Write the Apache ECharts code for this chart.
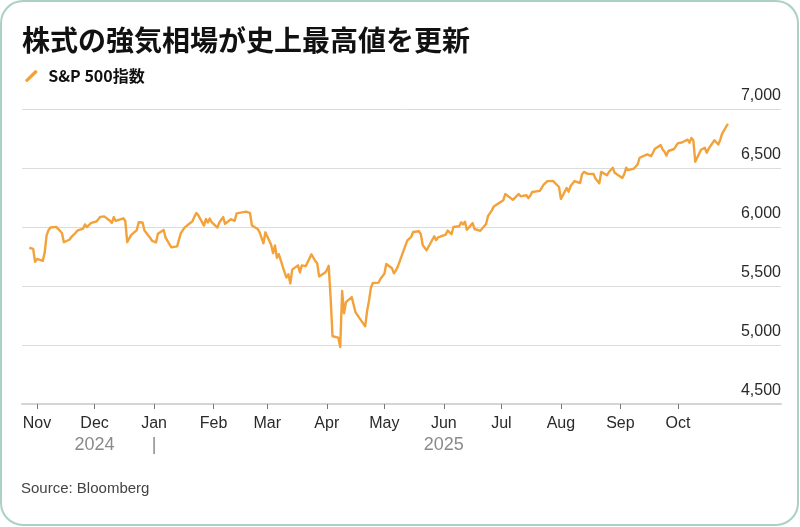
<!DOCTYPE html>
<html>
<head>
<meta charset="utf-8">
<script src="https://cdn.jsdelivr.net/npm/echarts@6/dist/echarts.min.js"></script>
<style>
html,body{margin:0;padding:0;background:#fff;}
#chart{width:800px;height:527px;}
</style>
</head>
<body>
<div id="chart"></div>
<script>
// ---- Data ----
const titleText = '株式の強気相場が史上最高値を更新';
const seriesName = 'S&P 500指数';
const sourceText = 'Source: Bloomberg';

const dates = [
'2024-10-28','2024-10-29','2024-10-30','2024-10-31','2024-11-01',
'2024-11-04','2024-11-05','2024-11-06','2024-11-07','2024-11-08',
'2024-11-11','2024-11-12','2024-11-13','2024-11-14','2024-11-15',
'2024-11-18','2024-11-19','2024-11-20','2024-11-21','2024-11-22',
'2024-11-25','2024-11-26','2024-11-27','2024-11-29',
'2024-12-02','2024-12-03','2024-12-04','2024-12-05','2024-12-06',
'2024-12-09','2024-12-10','2024-12-11','2024-12-12','2024-12-13',
'2024-12-16','2024-12-17','2024-12-18','2024-12-19','2024-12-20',
'2024-12-23','2024-12-24','2024-12-26','2024-12-27',
'2024-12-30','2024-12-31','2025-01-02','2025-01-03',
'2025-01-06','2025-01-07','2025-01-08','2025-01-10',
'2025-01-13','2025-01-14','2025-01-15','2025-01-16','2025-01-17',
'2025-01-21','2025-01-22','2025-01-23','2025-01-24',
'2025-01-27','2025-01-28','2025-01-29','2025-01-30','2025-01-31',
'2025-02-03','2025-02-04','2025-02-05','2025-02-06','2025-02-07',
'2025-02-10','2025-02-11','2025-02-12','2025-02-13','2025-02-14',
'2025-02-18','2025-02-19','2025-02-20','2025-02-21',
'2025-02-24','2025-02-25','2025-02-26','2025-02-27','2025-02-28',
'2025-03-03','2025-03-04','2025-03-05','2025-03-06','2025-03-07',
'2025-03-10','2025-03-11','2025-03-12','2025-03-13','2025-03-14',
'2025-03-17','2025-03-18','2025-03-19','2025-03-20','2025-03-21',
'2025-03-24','2025-03-25','2025-03-26','2025-03-27','2025-03-28',
'2025-03-31','2025-04-01','2025-04-02','2025-04-03','2025-04-04',
'2025-04-07','2025-04-08','2025-04-09','2025-04-10','2025-04-11',
'2025-04-14','2025-04-15','2025-04-16','2025-04-17',
'2025-04-21','2025-04-22','2025-04-23','2025-04-24','2025-04-25',
'2025-04-28','2025-04-29','2025-04-30','2025-05-01','2025-05-02',
'2025-05-05','2025-05-06','2025-05-07','2025-05-08','2025-05-09',
'2025-05-12','2025-05-13','2025-05-14','2025-05-15','2025-05-16',
'2025-05-19','2025-05-20','2025-05-21','2025-05-22','2025-05-23',
'2025-05-27','2025-05-28','2025-05-29','2025-05-30',
'2025-06-02','2025-06-03','2025-06-04','2025-06-05','2025-06-06',
'2025-06-09','2025-06-10','2025-06-11','2025-06-12','2025-06-13',
'2025-06-16','2025-06-17','2025-06-18','2025-06-20',
'2025-06-23','2025-06-24','2025-06-25','2025-06-26','2025-06-27',
'2025-06-30','2025-07-01','2025-07-02','2025-07-03',
'2025-07-07','2025-07-08','2025-07-09','2025-07-10','2025-07-11',
'2025-07-14','2025-07-15','2025-07-16','2025-07-17','2025-07-18',
'2025-07-21','2025-07-22','2025-07-23','2025-07-24','2025-07-25',
'2025-07-28','2025-07-29','2025-07-30','2025-07-31','2025-08-01',
'2025-08-04','2025-08-05','2025-08-06','2025-08-07','2025-08-08',
'2025-08-11','2025-08-12','2025-08-13','2025-08-14','2025-08-15',
'2025-08-18','2025-08-19','2025-08-20','2025-08-21','2025-08-22',
'2025-08-25','2025-08-26','2025-08-27','2025-08-28','2025-08-29',
'2025-09-02','2025-09-03','2025-09-04','2025-09-05',
'2025-09-08','2025-09-09','2025-09-10','2025-09-11','2025-09-12',
'2025-09-15','2025-09-16','2025-09-17','2025-09-18','2025-09-19',
'2025-09-22','2025-09-23','2025-09-24','2025-09-25','2025-09-26',
'2025-09-29','2025-09-30','2025-10-01','2025-10-02','2025-10-03',
'2025-10-06','2025-10-07','2025-10-08','2025-10-09','2025-10-10',
'2025-10-13','2025-10-14','2025-10-15','2025-10-16','2025-10-17',
'2025-10-20','2025-10-21','2025-10-22','2025-10-23','2025-10-24',
'2025-10-27'
];

const closes = [
5824,5833,5814,5705,5729,
5713,5783,5929,5973,5996,
6001,5984,5985,5949,5871,
5894,5917,5917,5949,5969,
5987,6022,5999,6032,
6047,6050,6086,6075,6090,
6053,6035,6084,6051,6051,
6074,6051,5872,5867,5931,
5974,6040,6038,5971,
5907,5882,5869,5942,
5975,5909,5918,5827,
5836,5843,5950,5937,5997,
6049,6086,6119,6101,
6012,6068,6039,6071,6041,
5995,6038,6061,6084,6026,
6066,6069,6052,6115,6115,
6130,6144,6118,6013,
5983,5955,5956,5862,5955,
5850,5778,5843,5739,5770,
5615,5572,5599,5522,5639,
5675,5615,5675,5663,5668,
5768,5777,5712,5693,5581,
5612,5633,5671,5397,5074,
5062,4983,5457,5268,5363,
5406,5397,5276,5283,
5158,5288,5376,5485,5525,
5529,5561,5569,5604,5687,
5650,5607,5631,5664,5660,
5844,5887,5893,5917,5958,
5964,5940,5845,5842,5803,
5922,5889,5912,5912,
5936,5970,5971,5939,6000,
6006,6039,6022,6045,5977,
6033,5983,5981,5968,
6025,6092,6092,6141,6173,
6205,6198,6227,6279,
6230,6226,6263,6280,6260,
6269,6244,6264,6297,6297,
6306,6310,6359,6363,6389,
6390,6371,6363,6339,6238,
6330,6299,6345,6340,6389,
6373,6446,6467,6469,6450,
6449,6411,6396,6370,6467,
6439,6466,6481,6502,6460,
6416,6448,6502,6482,
6495,6513,6532,6587,6584,
6615,6607,6600,6632,6664,
6694,6657,6638,6605,6644,
6661,6688,6711,6715,6716,
6740,6715,6754,6735,6553,
6655,6644,6671,6629,6664,
6735,6735,6699,6738,6792,
6875
];

const monthTicks = ['2024-11-01','2024-12-01','2025-01-01','2025-02-01','2025-03-01','2025-04-01','2025-05-01','2025-06-01','2025-07-01','2025-08-01','2025-09-01','2025-10-01'];
const monthLabels = ['Nov','Dec','Jan','Feb','Mar','Apr','May','Jun','Jul','Aug','Sep','Oct'];
const yearLabels = ['', '2024', '|', '', '', '', '', '2025', '', '', '', ''];
const yTicks = [4500, 5000, 5500, 6000, 6500, 7000];

// ---- Chart ----
const DAY = 86400000;
function dayNum(s){ const p = s.split('-').map(Number); return Date.UTC(p[0], p[1]-1, p[2]) / DAY; }
const tickDays = monthTicks.map(dayNum);
const xMin = tickDays[0] - 7.82;
const xMax = xMin + 395.5;

const chart = echarts.init(document.getElementById('chart'), null, {renderer: 'canvas'});
const lineColor = '#f3a23b';

const option = {
  animation: false,
  backgroundColor: '#ffffff',
  title: {
    text: titleText,
    left: 17,
    top: 21,
    textStyle: { fontFamily: 'Noto Sans CJK JP', fontWeight: 'bold', fontSize: 28, color: '#111' }
  },
  legend: {
    left: 20,
    top: 63,
    itemWidth: 14,
    itemHeight: 12,
    itemGap: 10,
    icon: 'path://M0,10 L9,1 Q10,0 11,1 L11.5,1.5 Q12.5,2.5 11.5,3.5 L2.5,12 Q1.5,13 0.5,12 L0,11.5 Q-1,10.5 0,10 Z',
    textStyle: { fontFamily: 'Noto Sans CJK JP', fontWeight: 'bold', fontSize: 16, color: '#111', padding: [0,0,0,5] },
    data: [seriesName]
  },
  grid: { left: 22, right: 19, top: 109, bottom: 123, containLabel: false },
  xAxis: {
    type: 'value',
    min: xMin,
    max: xMax,
    axisLine: { show: true, onZero: false, lineStyle: { color: '#d4d4d4', width: 2 } },
    axisTick: { show: true, length: 5, lineStyle: { color: '#777', width: 1 }, customValues: tickDays },
    splitLine: { show: false },
    axisLabel: {
      customValues: tickDays,
      margin: 10,
      hideOverlap: false,
      formatter: function (v) {
        let idx = -1;
        for (let i = 0; i < tickDays.length; i++) { if (Math.abs(tickDays[i] - v) < 0.5) idx = i; }
        if (idx < 0) return '';
        let s = '{m|' + monthLabels[idx] + '}';
        if (yearLabels[idx]) s += '\n{y|' + yearLabels[idx] + '}';
        return s;
      },
      rich: {
        m: { fontFamily: 'Liberation Sans', fontSize: 16, color: '#2a2a2a', lineHeight: 20 },
        y: { fontFamily: 'Liberation Sans', fontSize: 18, color: '#8a8a8a', lineHeight: 22 }
      }
    }
  },
  yAxis: {
    type: 'value',
    position: 'right',
    min: 4500,
    max: 7000,
    interval: 500,
    axisLine: { show: false },
    axisTick: { show: false },
    splitLine: { show: true, lineStyle: { color: '#dcdcdc', width: 1 } },
    axisLabel: {
      inside: true,
      margin: 0,
      verticalAlign: 'bottom',
      padding: [0, 0, 5, 0],
      fontFamily: 'Liberation Sans',
      fontSize: 16,
      color: '#2a2a2a',
      formatter: function (v) { return yTicks.indexOf(v) >= 0 ? v.toLocaleString('en-US') : ''; }
    }
  },
  series: [{
    name: seriesName,
    type: 'line',
    showSymbol: false,
    symbol: 'none',
    color: lineColor,
    lineStyle: { color: lineColor, width: 2.4, join: 'round' },
    data: dates.map((d, i) => [dayNum(d), closes[i]])
  }],
  graphic: [
    {
      type: 'rect',
      shape: { x: 1, y: 1, width: 797, height: 524, r: 22 },
      style: { fill: 'none', stroke: '#a9d1c5', lineWidth: 2 },
      silent: true, z: 100
    },
    {
      type: 'text',
      left: 21,
      top: 481,
      style: { text: sourceText, font: '15px "Liberation Sans"', fill: '#444' }
    }
  ]
};
chart.setOption(option);
</script>
</body>
</html>
